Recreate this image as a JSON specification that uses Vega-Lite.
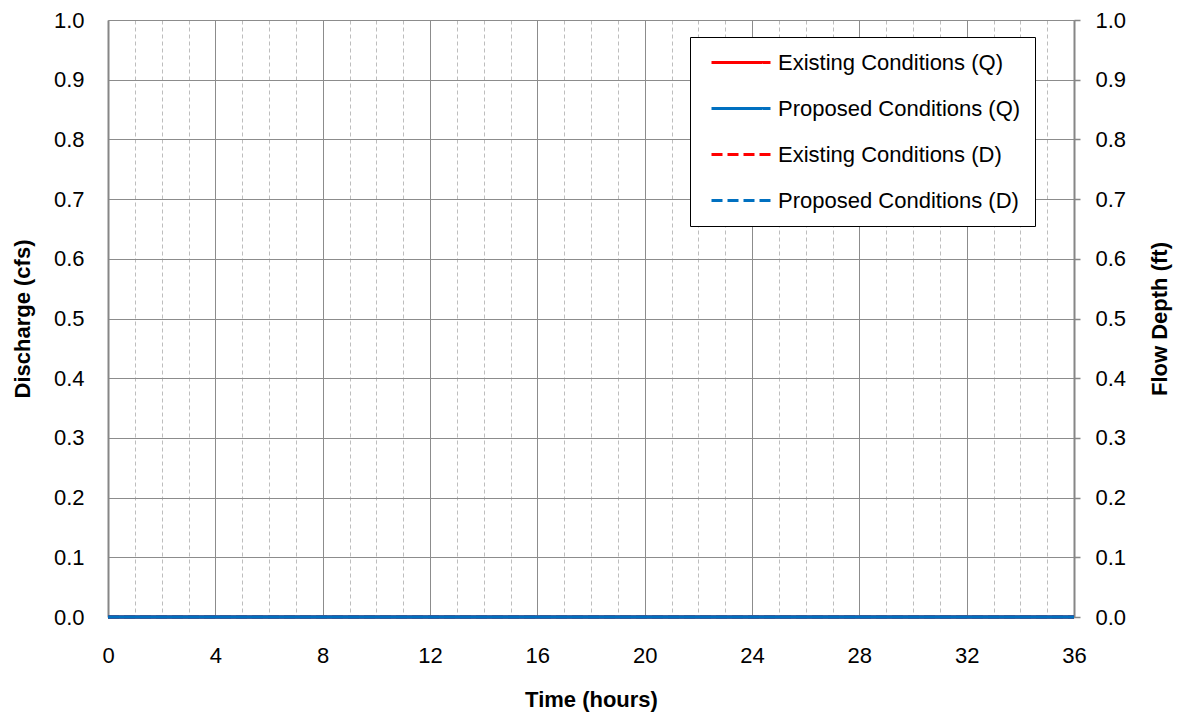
{
  "$schema": "https://vega.github.io/schema/vega-lite/v6.json",
  "width": 966,
  "height": 597,
  "autosize": {"type": "none"},
  "padding": {"left": 108, "top": 20, "right": 112, "bottom": 98},
  "background": "white",
  "config": {
    "view": {"stroke": null},
    "font": "Liberation Sans",
    "axis": {
      "labelFont": "Liberation Sans",
      "titleFont": "Liberation Sans",
      "labelFontSize": 22,
      "titleFontSize": 22,
      "labelColor": "black",
      "titleColor": "black",
      "titleFontWeight": "bold",
      "labelFlush": false,
      "labelOverlap": false
    }
  },
  "data": {
    "values": [
      {"time": 0, "value": 0, "series": "Existing Conditions (Q)", "kind": "Q"},
      {"time": 36, "value": 0, "series": "Existing Conditions (Q)", "kind": "Q"},
      {"time": 0, "value": 0, "series": "Proposed Conditions (Q)", "kind": "Q"},
      {"time": 36, "value": 0, "series": "Proposed Conditions (Q)", "kind": "Q"},
      {"time": 0, "value": 0, "series": "Existing Conditions (D)", "kind": "D"},
      {"time": 36, "value": 0, "series": "Existing Conditions (D)", "kind": "D"},
      {"time": 0, "value": 0, "series": "Proposed Conditions (D)", "kind": "D"},
      {"time": 36, "value": 0, "series": "Proposed Conditions (D)", "kind": "D"}
    ]
  },
  "layer": [
    {
      "transform": [{"filter": "datum.kind == 'Q'"}],
      "mark": {"type": "line", "strokeWidth": 3.5, "clip": false},
      "encoding": {
        "x": {
          "field": "time", "type": "quantitative",
          "scale": {"domain": [0, 36], "nice": false, "zero": false},
          "axis": {
            "orient": "bottom",
            "values": [1, 2, 3, 5, 6, 7, 9, 10, 11, 13, 14, 15, 17, 18, 19, 21, 22, 23, 25, 26, 27, 29, 30, 31, 33, 34, 35],
            "grid": true, "gridDash": [4, 3], "gridColor": "#bdbdbd", "gridWidth": 1,
            "labels": false, "ticks": false, "domain": false, "title": null
          }
        },
        "y": {
          "field": "value", "type": "quantitative",
          "scale": {"domain": [0, 1], "nice": false},
          "axis": {
            "orient": "left",
            "values": [0, 0.1, 0.2, 0.3, 0.4, 0.5, 0.6, 0.7, 0.8, 0.9, 1.0],
            "format": ".1f",
            "grid": true, "gridColor": "#8c8c8c", "gridWidth": 1,
            "ticks": false, "labelPadding": 24,
            "domainColor": "#868686", "domainWidth": 2,
            "title": "Discharge (cfs)", "titlePadding": 19
          }
        },
        "color": {
          "field": "series", "type": "nominal",
          "scale": {
            "domain": ["Existing Conditions (Q)", "Proposed Conditions (Q)", "Existing Conditions (D)", "Proposed Conditions (D)"],
            "range": ["#ff0000", "#0070c0", "#ff0000", "#0070c0"]
          },
          "legend": {
            "title": null, "orient": "none", "legendX": 582, "legendY": 17,
            "symbolType": "M-0.4,0H5.5", "symbolSize": 400, "symbolStrokeWidth": 3,
            "labelFontSize": 22, "labelFont": "Liberation Sans", "labelColor": "black", "labelLimit": 400,
            "fillColor": "white", "strokeColor": "black", "padding": 14,
            "rowPadding": 23, "labelOffset": 51
          }
        },
        "strokeDash": {
          "field": "series", "type": "nominal",
          "scale": {
            "domain": ["Existing Conditions (Q)", "Proposed Conditions (Q)", "Existing Conditions (D)", "Proposed Conditions (D)"],
            "range": [[1, 0], [1, 0], [11, 5], [11, 5]]
          },
          "legend": {
            "title": null, "orient": "none", "legendX": 582, "legendY": 17,
            "symbolType": "M-0.4,0H5.5", "symbolSize": 400, "symbolStrokeWidth": 3,
            "labelFontSize": 22, "labelFont": "Liberation Sans", "labelColor": "black", "labelLimit": 400,
            "fillColor": "white", "strokeColor": "black", "padding": 14,
            "rowPadding": 23, "labelOffset": 51
          }
        }
      }
    },
    {
      "transform": [{"filter": "datum.kind == 'D'"}],
      "mark": {"type": "line", "strokeWidth": 3.5, "clip": false},
      "encoding": {
        "x": {
          "field": "time", "type": "quantitative",
          "scale": {"domain": [0, 36], "nice": false, "zero": false},
          "axis": {
            "orient": "bottom",
            "values": [0, 4, 8, 12, 16, 20, 24, 28, 32, 36],
            "grid": true, "gridColor": "#8c8c8c", "gridWidth": 1,
            "ticks": false, "labelPadding": 28,
            "domainColor": "#868686", "domainWidth": 2,
            "title": "Time (hours)", "titlePadding": 23
          }
        },
        "y": {
          "field": "value", "type": "quantitative",
          "scale": {"domain": [0, 1], "nice": false},
          "axis": {
            "orient": "right",
            "values": [0, 0.1, 0.2, 0.3, 0.4, 0.5, 0.6, 0.7, 0.8, 0.9, 1.0],
            "format": ".1f",
            "grid": false,
            "ticks": true, "tickSize": 6, "tickColor": "#868686", "tickWidth": 1.5,
            "labelPadding": 15,
            "domainColor": "#868686", "domainWidth": 2,
            "title": "Flow Depth (ft)", "titleAngle": 270, "titleBaseline": "top", "titlePadding": 24
          }
        },
        "color": {
          "field": "series", "type": "nominal"
        },
        "strokeDash": {
          "field": "series", "type": "nominal"
        }
      }
    }
  ],
  "resolve": {"axis": {"x": "independent", "y": "independent"}}
}
